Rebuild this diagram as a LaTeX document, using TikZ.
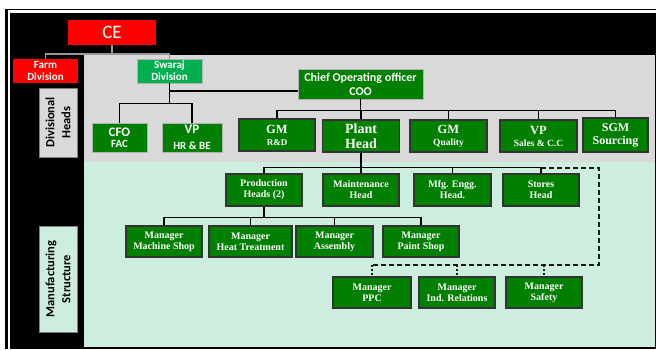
\documentclass[tikz,border=0pt]{standalone}
\usepackage{fontspec}
\setmainfont{Liberation Serif}
\newfontfamily\calibfont{Carlito}
\usetikzlibrary{calc}

\definecolor{boxgreen}{HTML}{007F00}
\definecolor{swarajgreen}{HTML}{00B050}
\definecolor{panelgray}{HTML}{D9D9D9}
\definecolor{panelgreen}{HTML}{CDEEDF}

\begin{document}
\begin{tikzpicture}[x=1pt,y=-1pt,
  cebox/.style={fill=red, text=white, font=\calibfont\fontsize{19}{20}\selectfont, minimum width=88pt, minimum height=25pt, inner sep=0pt},
  divbox/.style={text=white, font=\calibfont\bfseries\fontsize{11}{11.7}\selectfont, align=center, minimum width=65pt, minimum height=24pt, inner sep=0pt},
  topbox/.style={fill=boxgreen, draw=black!30, line width=0.8pt, text=white, align=center, inner sep=0pt},
  orgbox/.style={fill=boxgreen, draw=black!80, line width=1.4pt, text=white, align=center, inner sep=0pt},
  rowbox/.style={orgbox, font=\bfseries\fontsize{10}{11}\selectfont, minimum width=76pt, minimum height=31pt},
  sidelabel/.style={draw=black!50, line width=0.8pt, text=black, font=\calibfont\bfseries\fontsize{12.5}{16}\selectfont, align=center, rotate=90, minimum height=38pt, inner sep=0pt},
  link/.style={draw=black, line width=1.5pt},
  celink/.style={draw=black!40, line width=1.8pt},
  dashlink/.style={draw=black!90, line width=1.8pt, dash pattern=on 5pt off 3pt},
  dotlink/.style={draw=black!90, line width=1.8pt, dash pattern=on 2pt off 2pt}
]
  \useasboundingbox (0,0) rectangle (656,349);

  % Frame and panels
  \fill[black] (5,9) rectangle (656,349);
  \fill[white] (8,10.4) rectangle (656,13);
  \fill[white] (8,10.4) rectangle (10,349);
  \fill[panelgray] (84,55) rectangle (655,162);
  \fill[panelgreen] (84,162) rectangle (655,347);

  % Top of the chart
  \node[cebox] (ce) at (112,32.5) {CE};
  \node[divbox, fill=red] (farm) at (45.5,71) {Farm\\Division};
  \node[divbox, fill=swarajgreen, draw=black!30, line width=0.6pt] (swaraj) at (169.5,71) {Swaraj\\Division};

  % Side labels
  \node[sidelabel, fill=panelgray, minimum width=69pt] (divlbl) at (58,122.5) {Divisional\\Heads};
  \node[sidelabel, fill=panelgreen, minimum width=106pt] (mfglbl) at (58,279) {Manufacturing\\Structure};

  % Divisional heads
  \node[topbox, minimum width=55pt, minimum height=29pt, font=\calibfont\bfseries\fontsize{13}{11}\selectfont] (cfo) at (119.5,137.5) {CFO\\{\fontsize{11}{11}\selectfont FAC}};
  \node[topbox, minimum width=60pt, minimum height=29pt, font=\calibfont\bfseries\fontsize{13}{11}\selectfont] (vphr) at (192,137.5) {VP\\[5pt]{\fontsize{11}{11}\selectfont HR \& BE}};
  \node[topbox, minimum width=125pt, minimum height=30pt, font=\calibfont\bfseries\fontsize{12}{14}\selectfont] (coo) at (360.5,84) {Chief Operating officer\\COO};

  \node[orgbox, minimum width=76pt, minimum height=32pt, font=\bfseries\fontsize{12.5}{12}\selectfont] (rd) at (277,135) {GM\\{\fontsize{9}{12}\selectfont R\&D}};
  \node[orgbox, minimum width=77pt, minimum height=32pt, font=\bfseries\fontsize{14}{15}\selectfont] (plant) at (361,136) {Plant\\Head};
  \node[orgbox, minimum width=77pt, minimum height=32pt, font=\bfseries\fontsize{12.5}{12}\selectfont] (qual) at (448.5,136) {GM\\{\fontsize{9.5}{12}\selectfont Quality}};
  \node[orgbox, minimum width=77pt, minimum height=32pt, font=\bfseries\fontsize{12.5}{12}\selectfont] (vps) at (538.5,136) {VP\\{\fontsize{9.5}{12}\selectfont Sales \& C.C}};
  \node[orgbox, minimum width=65pt, minimum height=34pt, font=\bfseries\fontsize{12}{13}\selectfont] (sgm) at (615.5,135) {SGM\\Sourcing};

  % Manufacturing structure
  \node[rowbox, minimum height=32pt] (prod) at (264,190) {Production\\Heads (2)};
  \node[rowbox, minimum height=32pt] (maint) at (361,190) {Maintenance\\Head};
  \node[rowbox, minimum height=32pt, minimum width=77pt] (mfg) at (452.5,190) {Mfg. Engg.\\Head.};
  \node[rowbox, minimum height=32pt] (stores) at (541,190) {Stores\\Head};

  \node[rowbox] (mshop) at (164,241.5) {Manager\\Machine Shop};
  \node[rowbox, minimum width=83pt] (heat) at (250.5,241.5) {Manager\\Heat Treatment};
  \node[rowbox, minimum width=77pt] (assy) at (334.5,241.5) {Manager\\Assembly};
  \node[rowbox] (paint) at (421,241.5) {Manager\\Paint Shop};

  \node[rowbox, minimum width=78pt] (ppc) at (372,292.5) {Manager\\PPC};
  \node[rowbox] (indrel) at (457,292.5) {Manager\\Ind. Relations};
  \node[rowbox] (safety) at (544,292.5) {Manager\\Safety};

  % Connectors
  \draw[celink] (ce.south) -- ++(0,9) coordinate (cejoin);
  \draw[celink] (farm.north) |- (cejoin) -| (swaraj.north);

  \draw[link] (swaraj.south) |- ([yshift=-7pt]coo.west);
  \draw[link] (swaraj.south) -- ++(0,20) coordinate (sjoin);
  \draw[link] (cfo.north) |- (sjoin) -| (vphr.north);

  \draw[link] (coo.south) -- ++(0,11) coordinate (cbar);
  \draw[link] (rd.north) |- (cbar) -| (sgm.north);
  \foreach \n in {plant,qual,vps}
    \draw[link] (cbar) -| (\n.north);

  \draw[link] (plant.south) -- ++(0,15) coordinate (pbar);
  \draw[link] (prod.north) |- (pbar) -| (stores.north);
  \foreach \n in {maint,mfg}
    \draw[link] (pbar) -| (\n.north);

  \draw[link] (prod.south) -- ++(0,11) coordinate (mbar);
  \draw[link] (mshop.north) |- (mbar) -| (paint.north);
  \foreach \n in {heat,assy}
    \draw[link] (mbar) -| (\n.north);

  % Dashed reporting line
  \coordinate (dcorner) at (599,265);
  \draw[dashlink] (stores.north |- pbar) -| (dcorner) -- (dcorner -| ppc.north);
  \foreach \n in {ppc,indrel,safety}
    \draw[dotlink] (dcorner -| \n.north) -- (\n.north);
\end{tikzpicture}
\end{document}
